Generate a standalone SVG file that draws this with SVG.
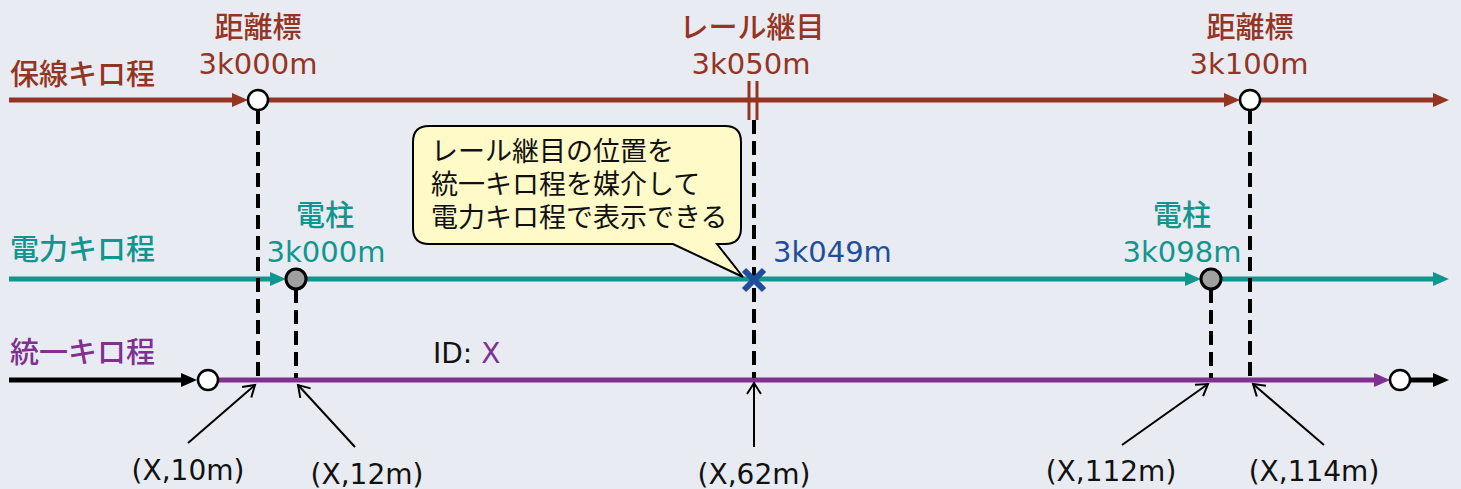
<svg xmlns="http://www.w3.org/2000/svg" width="1461" height="489" viewBox="0 0 1461 489">
<defs>
<style>
text{font-family:"DejaVu Sans","Noto Sans CJK JP",sans-serif}
.br{fill:#943422}.tl{fill:#10968F}.pu{fill:#7F3090}.bl{fill:#1F4E9A}.bk{fill:#111}
.big{font-size:29px}.lbl{font-size:28px}.cj{font-size:29px;font-weight:500}.cal{font-size:27px}
.ln{stroke-width:5;fill:none}
.dash{stroke:#000;stroke-width:4;stroke-dasharray:14 7;fill:none}
.thin{stroke:#000;stroke-width:2;fill:none}
.wc{fill:#fff;stroke:#000;stroke-width:2.5}
.gc{fill:#A0A0A0;stroke:#000;stroke-width:3}
</style>
<marker id="mb" markerUnits="userSpaceOnUse" markerWidth="16" markerHeight="14" refX="6" refY="7" orient="auto"><path d="M0,0 L16,7 L0,14z" fill="#943422"/></marker>
<marker id="mt" markerUnits="userSpaceOnUse" markerWidth="16" markerHeight="14" refX="6" refY="7" orient="auto"><path d="M0,0 L16,7 L0,14z" fill="#10968F"/></marker>
<marker id="mp" markerUnits="userSpaceOnUse" markerWidth="16" markerHeight="14" refX="6" refY="7" orient="auto"><path d="M0,0 L16,7 L0,14z" fill="#7F3090"/></marker>
<marker id="mk" markerUnits="userSpaceOnUse" markerWidth="16" markerHeight="14" refX="6" refY="7" orient="auto"><path d="M0,0 L16,7 L0,14z" fill="#000"/></marker>
<marker id="oa" markerUnits="userSpaceOnUse" markerWidth="16" markerHeight="16" refX="13" refY="8" orient="auto"><path d="M2,1 L13,8 L2,15" fill="none" stroke="#000" stroke-width="2"/></marker>
</defs>
<rect width="1461" height="489" fill="#E8EBF1"/>

<g id="connectors">
<line class="ln" stroke="#943422" x1="9" y1="100" x2="238" y2="100" marker-end="url(#mb)"/>
<line class="ln" stroke="#943422" x1="266" y1="100" x2="1230" y2="100" marker-end="url(#mb)"/>
<line class="ln" stroke="#943422" x1="1258" y1="100" x2="1439" y2="100" marker-end="url(#mb)"/>
<line class="ln" stroke="#10968F" x1="9" y1="279" x2="276" y2="279" marker-end="url(#mt)"/>
<line class="ln" stroke="#10968F" x1="304" y1="279" x2="1191" y2="279" marker-end="url(#mt)"/>
<line class="ln" stroke="#10968F" x1="1219" y1="279" x2="1439" y2="279" marker-end="url(#mt)"/>
<line class="ln" stroke="#000" x1="9" y1="380" x2="187" y2="380" marker-end="url(#mk)"/>
<line class="ln" stroke="#7F3090" x1="216" y1="380" x2="1380" y2="380" marker-end="url(#mp)"/>
<line class="ln" stroke="#000" x1="1408" y1="380" x2="1439" y2="380" marker-end="url(#mk)"/>
<line class="dash" x1="258" y1="110" x2="258" y2="378"/>
<line class="dash" x1="296" y1="289" x2="296" y2="378"/>
<line class="dash" x1="754" y1="120" x2="754" y2="378"/>
<line class="dash" x1="1211" y1="289" x2="1211" y2="378"/>
<line class="dash" x1="1250" y1="110" x2="1250" y2="378"/>
<line class="thin" x1="188" y1="443" x2="255" y2="385" marker-end="url(#oa)"/>
<line class="thin" x1="355" y1="447" x2="298" y2="385" marker-end="url(#oa)"/>
<line class="thin" x1="754" y1="447" x2="754" y2="383" marker-end="url(#oa)"/>
<line class="thin" x1="1122" y1="445" x2="1208" y2="384" marker-end="url(#oa)"/>
<line class="thin" x1="1324" y1="445" x2="1253" y2="384" marker-end="url(#oa)"/>
</g>

<g id="line-labels">
<text class="cj br" x="10" y="85">保線キロ程</text>
<text class="cj tl" x="10" y="260">電力キロ程</text>
<text class="cj pu" x="10" y="363">統一キロ程</text>
<text class="lbl bk" x="433" y="363">ID: <tspan class="pu">X</tspan></text>
</g>

<g id="post-3k000">
<circle class="wc" cx="258" cy="100" r="10"/>
<text class="cj br" x="258" y="38" text-anchor="middle">距離標</text>
<text class="big br" x="258" y="74" text-anchor="middle">3k000m</text>
</g>

<g id="rail-joint">
<line x1="749" y1="81" x2="749" y2="120" stroke="#943422" stroke-width="3"/>
<line x1="757" y1="81" x2="757" y2="120" stroke="#943422" stroke-width="3"/>
<text class="cj br" x="752" y="38" text-anchor="middle">レール継目</text>
<text class="big br" x="751" y="74" text-anchor="middle">3k050m</text>
</g>

<g id="post-3k100">
<circle class="wc" cx="1250" cy="100" r="10"/>
<text class="cj br" x="1250" y="38" text-anchor="middle">距離標</text>
<text class="big br" x="1249" y="74" text-anchor="middle">3k100m</text>
</g>

<g id="pole-3k000">
<circle class="gc" cx="296" cy="279" r="10"/>
<text class="cj tl" x="325" y="226" text-anchor="middle">電柱</text>
<text class="big tl" x="326" y="262" text-anchor="middle">3k000m</text>
</g>

<g id="pole-3k098">
<circle class="gc" cx="1211" cy="279" r="10"/>
<text class="cj tl" x="1182" y="226" text-anchor="middle">電柱</text>
<text class="big tl" x="1182" y="262" text-anchor="middle">3k098m</text>
</g>

<g id="joint-power">
<path d="M744,270 L764,290 M764,270 L744,290" stroke="#1F4E9A" stroke-width="6" fill="none"/>
<text class="big bl" x="773" y="262">3k049m</text>
</g>

<g id="callout">
<path d="M429,126 H725 Q741,126 741,142 V228 Q741,244 725,244 H717 L743,277 L673,244 H429 Q413,244 413,228 V142 Q413,126 429,126 Z" fill="#FFFAC8" stroke="#000" stroke-width="2"/>
<text class="cal bk" x="431" y="161">レール継目の位置を</text>
<text class="cal bk" x="431" y="194">統一キロ程を媒介して</text>
<text class="cal bk" x="431" y="227">電力キロ程で表示できる</text>
</g>

<g id="unified-points">
<circle class="wc" cx="208" cy="380" r="10"/>
<circle class="wc" cx="1400" cy="380" r="10"/>
<text class="lbl bk" x="188" y="480" text-anchor="middle">(X,10m)</text>
<text class="lbl bk" x="367" y="484" text-anchor="middle">(X,12m)</text>
<text class="lbl bk" x="754" y="484" text-anchor="middle">(X,62m)</text>
<text class="lbl bk" x="1111" y="481" text-anchor="middle">(X,112m)</text>
<text class="lbl bk" x="1314" y="481" text-anchor="middle">(X,114m)</text>
</g>
</svg>
